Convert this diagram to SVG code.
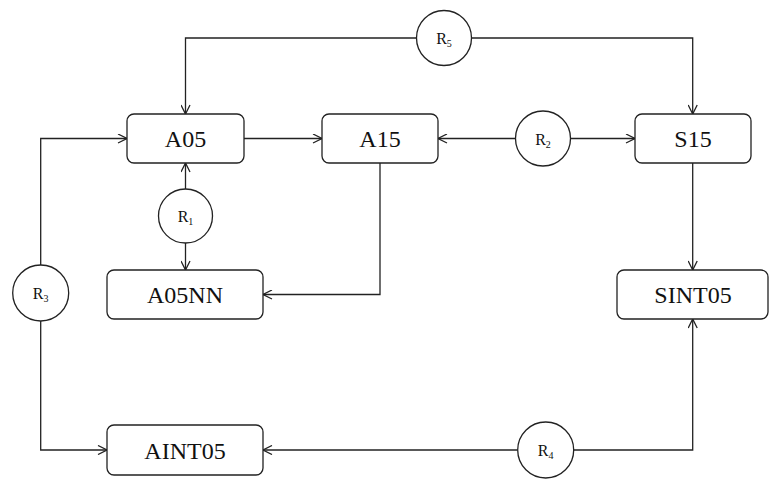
<svg xmlns="http://www.w3.org/2000/svg" width="773" height="484" viewBox="0 0 773 484">
<style>
.box{fill:#fff;stroke:#222;stroke-width:1.3}
.circ{fill:#fff;stroke:#222;stroke-width:1.3}
.lbl{font-family:"Liberation Serif","Times New Roman",serif;font-size:24px;fill:#111;text-anchor:middle}
.r{font-family:"Liberation Serif","Times New Roman",serif;font-size:16px;fill:#111;text-anchor:middle}
.sub{font-size:10px}
.edge{fill:none;stroke:#222;stroke-width:1.3}
</style>
<defs>
<marker id="arr" viewBox="0 0 10 10" refX="10" refY="5" markerWidth="10" markerHeight="10" markerUnits="userSpaceOnUse" orient="auto">
<path d="M1,0.5 L10,5 L1,9.5" fill="none" stroke="#222" stroke-width="1.3"/>
</marker>
</defs>
<g id="connectors">
<path class="edge" d="M416.5,38 H185.5 V114" marker-end="url(#arr)"/>
<path class="edge" d="M471.5,38 H692.7 V114" marker-end="url(#arr)"/>
<path class="edge" d="M244,138.5 H322" marker-end="url(#arr)"/>
<path class="edge" d="M516,138.5 H438" marker-end="url(#arr)"/>
<path class="edge" d="M571,138.5 H635" marker-end="url(#arr)"/>
<path class="edge" d="M185.5,189 V163" marker-end="url(#arr)"/>
<path class="edge" d="M185.5,243 V270" marker-end="url(#arr)"/>
<path class="edge" d="M380,163 V294.5 H263" marker-end="url(#arr)"/>
<path class="edge" d="M40.7,265 V138.5 H127" marker-end="url(#arr)"/>
<path class="edge" d="M40.7,321 V450 H107" marker-end="url(#arr)"/>
<path class="edge" d="M692.7,163 V270" marker-end="url(#arr)"/>
<path class="edge" d="M517.5,450 H263" marker-end="url(#arr)"/>
<path class="edge" d="M574,450 H692.7 V319" marker-end="url(#arr)"/>
</g>
<g id="A05"><rect class="box" x="127" y="114" width="117" height="49" rx="7"/><text class="lbl" x="185.5" y="147">A05</text></g>
<g id="A15"><rect class="box" x="322" y="114" width="116" height="49" rx="7"/><text class="lbl" x="380" y="147">A15</text></g>
<g id="S15"><rect class="box" x="635" y="114" width="116" height="49" rx="7"/><text class="lbl" x="693" y="147">S15</text></g>
<g id="A05NN"><rect class="box" x="107" y="270" width="156" height="49" rx="7"/><text class="lbl" x="185" y="303">A05NN</text></g>
<g id="SINT05"><rect class="box" x="617" y="270" width="151" height="49" rx="7"/><text class="lbl" x="693" y="303">SINT05</text></g>
<g id="AINT05"><rect class="box" x="107" y="425" width="156" height="50" rx="7"/><text class="lbl" x="185" y="458.5">AINT05</text></g>
<g id="R5"><circle class="circ" cx="444" cy="38" r="27.5"/><text class="r" x="444" y="44">R<tspan class="sub" dy="3">5</tspan></text></g>
<g id="R2"><circle class="circ" cx="543" cy="138.5" r="27.5"/><text class="r" x="543" y="144.5">R<tspan class="sub" dy="3">2</tspan></text></g>
<g id="R1"><circle class="circ" cx="185.5" cy="216" r="27"/><text class="r" x="185.5" y="222">R<tspan class="sub" dy="3">1</tspan></text></g>
<g id="R3"><circle class="circ" cx="40.7" cy="293" r="28"/><text class="r" x="40.7" y="299">R<tspan class="sub" dy="3">3</tspan></text></g>
<g id="R4"><circle class="circ" cx="545.7" cy="450" r="28"/><text class="r" x="545.7" y="456">R<tspan class="sub" dy="3">4</tspan></text></g>
</svg>
